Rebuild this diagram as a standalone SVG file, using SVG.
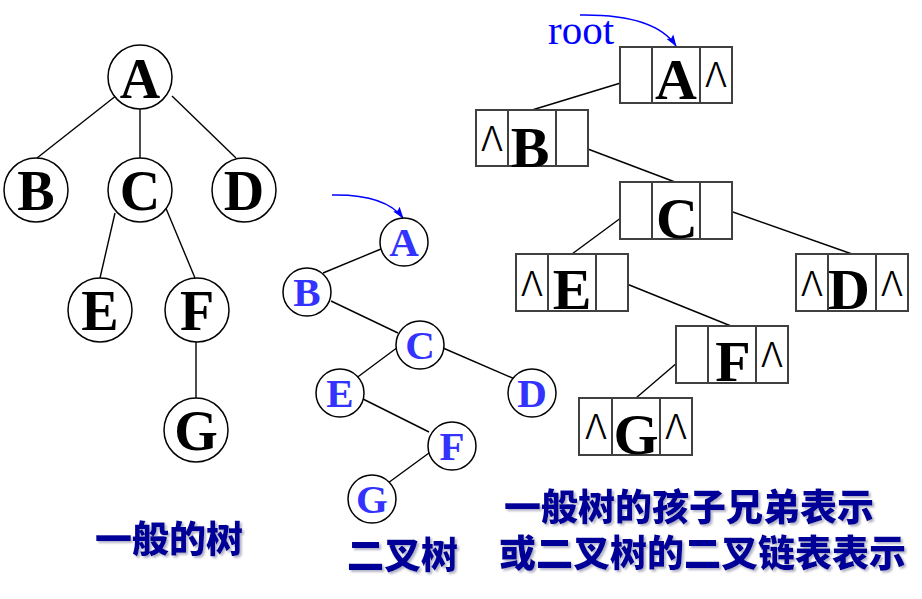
<svg xmlns="http://www.w3.org/2000/svg" width="922" height="599" viewBox="0 0 922 599">
<defs>
<marker id="ah" viewBox="0 0 12 10" refX="11" refY="5" markerWidth="12" markerHeight="10" orient="auto" markerUnits="userSpaceOnUse">
<path d="M0,1 L12,5 L0,9 L2,5 Z" fill="#0000ff"/>
</marker>
<filter id="sh" x="-5%" y="-20%" width="110%" height="150%">
<feDropShadow dx="2" dy="2" stdDeviation="1" flood-color="#8080a0" flood-opacity="0.6"/>
</filter>
<style>
.c{fill:#fff;stroke:#000;stroke-width:1.5}
.bx{fill:#fff;stroke:#404040;stroke-width:2}
.dv{stroke:#404040;stroke-width:2}
.ln{stroke:#000;stroke-width:1.4;fill:none}
.bl{font-family:"Liberation Serif","Times New Roman",serif;font-weight:bold;font-size:56px;text-anchor:middle;fill:#000}
.bt{font-family:"Liberation Serif","Times New Roman",serif;font-weight:bold;font-size:41px;text-anchor:middle;fill:#3333ff}
.cl{font-family:"Liberation Serif","Times New Roman",serif;font-weight:bold;font-size:58px;text-anchor:middle;fill:#000}
.nil{font-family:"Inter","Open Sans",sans-serif;font-weight:300;font-size:34px;text-anchor:middle;fill:#000}
.cj{font-family:"Noto Sans CJK SC","Noto Sans CJK TC",sans-serif;font-weight:900;font-size:37px;fill:#000099;filter:url(#sh)}
.ar{stroke:#0000ff;stroke-width:1.5;fill:none;marker-end:url(#ah)}
</style>
</defs>
<rect width="922" height="599" fill="#fff"/>

<g id="connectors">
<line class="ln" x1="117" y1="95" x2="37" y2="158"/>
<line class="ln" x1="140" y1="109" x2="140" y2="158"/>
<line class="ln" x1="172" y1="96" x2="236" y2="158"/>
<line class="ln" x1="115" y1="213" x2="100" y2="278"/>
<line class="ln" x1="165" y1="206" x2="195" y2="278"/>
<line class="ln" x1="196" y1="342" x2="196" y2="398"/>
<line class="ln" x1="381" y1="249" x2="323" y2="273"/>
<line class="ln" x1="331" y1="301" x2="398" y2="333"/>
<line class="ln" x1="398" y1="347" x2="355" y2="379"/>
<line class="ln" x1="443" y1="348" x2="517" y2="380"/>
<line class="ln" x1="363" y1="399" x2="429" y2="432"/>
<line class="ln" x1="429" y1="453" x2="388" y2="483"/>
<path class="ar" d="M332,195 Q385,194 403,218"/>
<line class="ln" x1="637" y1="78" x2="532" y2="110"/>
<line class="ln" x1="572" y1="143" x2="675" y2="182"/>
<line class="ln" x1="637" y1="206" x2="572" y2="254"/>
<line class="ln" x1="716" y1="206" x2="852" y2="254"/>
<line class="ln" x1="612" y1="278" x2="731" y2="326"/>
<line class="ln" x1="692" y1="350" x2="636" y2="398"/>
<path class="ar" d="M580,15 Q655,14 676,46"/>
</g>

<g id="gA"><circle class="c" cx="140" cy="77" r="32"/><text class="bl" x="140" y="98">A</text></g>
<g id="gB"><circle class="c" cx="36" cy="190" r="32"/><text class="bl" x="36" y="210">B</text></g>
<g id="gC"><circle class="c" cx="140" cy="190" r="32"/><text class="bl" x="140" y="210">C</text></g>
<g id="gD"><circle class="c" cx="244" cy="190" r="32"/><text class="bl" x="244" y="210">D</text></g>
<g id="gE"><circle class="c" cx="100" cy="310" r="32"/><text class="bl" x="100" y="330">E</text></g>
<g id="gF"><circle class="c" cx="197" cy="310" r="32"/><text class="bl" x="197" y="330">F</text></g>
<g id="gG"><circle class="c" cx="196" cy="430" r="32"/><text class="bl" x="196" y="450">G</text></g>

<g id="bA"><circle class="c" cx="404" cy="242" r="24"/><text class="bt" x="404" y="256">A</text></g>
<g id="bB"><circle class="c" cx="307" cy="292" r="24"/><text class="bt" x="307" y="306">B</text></g>
<g id="bC"><circle class="c" cx="420" cy="345" r="24"/><text class="bt" x="420" y="359">C</text></g>
<g id="bE"><circle class="c" cx="340" cy="393" r="24"/><text class="bt" x="340" y="407">E</text></g>
<g id="bD"><circle class="c" cx="532" cy="393" r="24"/><text class="bt" x="532" y="407">D</text></g>
<g id="bF"><circle class="c" cx="452" cy="446" r="24"/><text class="bt" x="452" y="460">F</text></g>
<g id="bG"><circle class="c" cx="372" cy="499" r="24"/><text class="bt" x="372" y="513">G</text></g>

<text x="548" y="44" font-family="'Liberation Serif','Times New Roman',serif" font-size="41" fill="#0000ff">root</text>

<g id="lA"><rect class="bx" x="620" y="47" width="112" height="56"/><line class="dv" x1="652" y1="47" x2="652" y2="103"/><line class="dv" x1="700" y1="47" x2="700" y2="103"/><text class="cl" x="676" y="99">A</text><text class="nil" x="716" y="87">Λ</text></g>
<g id="lB"><rect class="bx" x="476" y="110" width="112" height="56"/><line class="dv" x1="508" y1="110" x2="508" y2="166"/><line class="dv" x1="556" y1="110" x2="556" y2="166"/><text class="cl" x="530" y="167">B</text><text class="nil" x="492" y="151">Λ</text></g>
<g id="lC"><rect class="bx" x="620" y="182" width="112" height="57"/><line class="dv" x1="652" y1="182" x2="652" y2="239"/><line class="dv" x1="700" y1="182" x2="700" y2="239"/><text class="cl" x="677" y="238">C</text></g>
<g id="lE"><rect class="bx" x="516" y="254" width="112" height="57"/><line class="dv" x1="548" y1="254" x2="548" y2="311"/><line class="dv" x1="596" y1="254" x2="596" y2="311"/><text class="cl" x="572" y="309">E</text><text class="nil" x="532" y="296">Λ</text></g>
<g id="lD"><rect class="bx" x="796" y="254" width="112" height="57"/><line class="dv" x1="828" y1="254" x2="828" y2="311"/><line class="dv" x1="876" y1="254" x2="876" y2="311"/><text class="cl" x="849" y="309">D</text><text class="nil" x="812" y="296">Λ</text><text class="nil" x="892" y="296">Λ</text></g>
<g id="lF"><rect class="bx" x="676" y="326" width="112" height="57"/><line class="dv" x1="708" y1="326" x2="708" y2="383"/><line class="dv" x1="756" y1="326" x2="756" y2="383"/><text class="cl" x="733" y="381">F</text><text class="nil" x="772" y="367">Λ</text></g>
<g id="lG"><rect class="bx" x="579" y="398" width="113" height="57"/><line class="dv" x1="612" y1="398" x2="612" y2="455"/><line class="dv" x1="660" y1="398" x2="660" y2="455"/><text class="cl" x="636" y="454">G</text><text class="nil" x="596" y="439">Λ</text><text class="nil" x="676" y="439">Λ</text></g>

<text class="cj" x="95" y="553">一般的树</text>
<text class="cj" x="347" y="569">二叉树</text>
<text class="cj"><tspan x="504" y="521">一般树的孩子兄弟表示</tspan><tspan x="499" y="567">或二叉树的二叉链表表示</tspan></text>
</svg>
